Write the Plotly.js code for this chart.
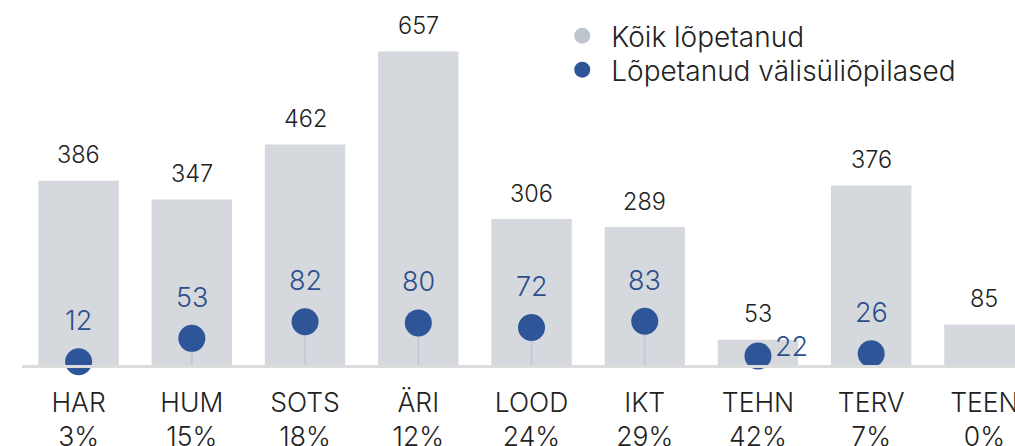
<!DOCTYPE html>
<html>
<head>
<meta charset="utf-8">
<script src="https://cdn.plot.ly/plotly-3.0.1.min.js"></script>
<style>html,body{margin:0;padding:0;background:#fff;overflow:hidden}#chart{width:1015px;height:446px}</style>
</head>
<body>
<div id="chart"></div>
<script>
// ---- data ----
const categories = ["HAR", "HUM", "SOTS", "ÄRI", "LOOD", "IKT", "TEHN", "TERV", "TEEN"];
const shareLabels = ["3%", "15%", "18%", "12%", "24%", "29%", "42%", "7%", "0%"];
const allGraduates = [386, 347, 462, 657, 306, 289, 53, 376, 85];
const foreignGraduates = [12, 53, 82, 80, 72, 83, 22, 26, 0];
const seriesNames = ["Kõik lõpetanud", "Lõpetanud välisüliõpilased"];

// ---- styles ----
const FONT = "Inter, 'Open Sans', sans-serif";
const W = 300;
const BAR_COLOR = "#d5d8dd";
const LEGEND_GRAY = "#bfc5ce";
const DOT_COLOR = "#2d5598";
const DOT_TEXT = "#2c4f8c";
const STEM_COLOR = "#c3cad4";

const idx = categories.map((_, i) => i);
const tickText = categories.map((c, i) => c + "<br>" + shareLabels[i]);

// dots only where there is a value
const dotIdx = idx.filter(i => foreignGraduates[i] > 0);

const traces = [
  {
    type: "bar", x: idx, y: allGraduates, yaxis: "y",
    marker: {color: BAR_COLOR}, showlegend: false, hoverinfo: "skip"
  },
  {
    type: "scatter", mode: "markers", name: seriesNames[0], legend: "legend",
    x: [null], y: [null], marker: {color: LEGEND_GRAY, size: 18}
  },
  {
    type: "scatter", mode: "markers", name: seriesNames[1], yaxis: "y2", legend: "legend2",
    x: dotIdx, y: dotIdx.map(i => foreignGraduates[i]),
    marker: {color: DOT_COLOR, size: 27},
    error_y: {
      type: "data", symmetric: false,
      array: dotIdx.map(() => 0),
      arrayminus: dotIdx.map(i => foreignGraduates[i] - 6.3),
      color: STEM_COLOR, thickness: 2, width: 0
    },
    cliponaxis: false, hoverinfo: "skip"
  }
];

const annotations = [];
idx.forEach(i => {
  annotations.push({
    x: i, y: allGraduates[i], xref: "x", yref: "y",
    text: String(allGraduates[i]), showarrow: false,
    yanchor: "middle", yshift: 26,
    font: {family: FONT, size: 23.5, weight: W, color: "#222222"}
  });
});
// special placement where the dot label would clash with the bar label
const sideLabel = {"TEHN": true};
dotIdx.forEach(i => {
  const side = sideLabel[categories[i]];
  annotations.push({
    x: i, y: foreignGraduates[i], xref: "x", yref: "y2",
    text: String(foreignGraduates[i]), showarrow: false,
    xanchor: side ? "left" : "center", yanchor: "middle",
    xshift: side ? 15 : 0, yshift: side ? 10 : 41,
    font: {family: FONT, size: 27, weight: W, color: DOT_TEXT}
  });
});

const legendCommon = {
  xanchor: "left", yanchor: "middle", itemwidth: 48,
  bgcolor: "rgba(0,0,0,0)",
  font: {family: FONT, size: 28, weight: W, color: "#222222"}
};

const layout = {
  width: 1015, height: 446,
  margin: {l: 22, r: 0, t: 0, b: 81},
  paper_bgcolor: "#ffffff", plot_bgcolor: "#ffffff",
  font: {family: FONT, color: "#222222"},
  bargap: 0.29,
  xaxis: {
    type: "linear", range: [-0.5, 8.27],
    tickmode: "array", tickvals: idx, ticktext: tickText,
    ticks: "", ticklabelstandoff: 12, ticklabeloverflow: "allow",
    tickfont: {family: FONT, size: 26.5, weight: W, color: "#222222"},
    showgrid: false, zeroline: false,
    showline: true, linecolor: "#dcdcdc", linewidth: 3
  },
  yaxis: {range: [0, 765], visible: false, showgrid: false, zeroline: false},
  yaxis2: {range: [6.3, 645.5], overlaying: "y", visible: false, showgrid: false, zeroline: false},
  legend: Object.assign({x: 0.535, y: 1 - 36 / 365}, legendCommon),
  legend2: Object.assign({x: 0.535, y: 1 - 70 / 365}, legendCommon),
  annotations: annotations,
  showlegend: true
};

Plotly.newPlot("chart", traces, layout, {displayModeBar: false, staticPlot: true});
</script>
</body>
</html>
